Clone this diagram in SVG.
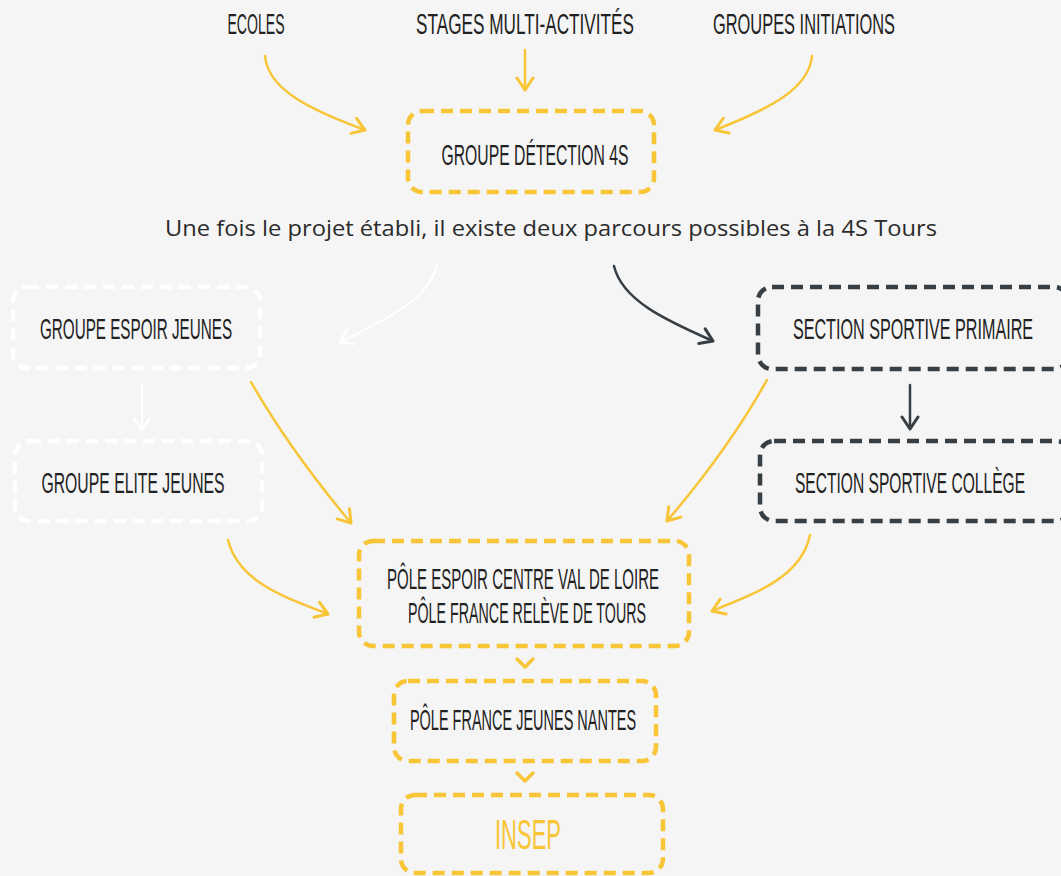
<svg xmlns="http://www.w3.org/2000/svg" width="1061" height="876" viewBox="0 0 1061 876">
<defs>
<style>
.bg{fill:#f5f5f5}
.box{fill:none;stroke-width:4.5;stroke-dasharray:12 7;stroke-linecap:butt}
.y{stroke:#f8c537}
.w{stroke:#ffffff}
.d{stroke:#373f45}
.lbl{font-family:"Liberation Sans",Arial,sans-serif;font-size:29px;fill:#222;text-anchor:middle}
.sub{font-family:"Open Sans","Liberation Sans",sans-serif;font-size:21px;fill:#2b2b2b;text-anchor:middle}
.ins{font-family:"Liberation Sans",Arial,sans-serif;font-size:42px;fill:#f8c537;text-anchor:middle}
.ar{fill:none;stroke-linecap:round;stroke-linejoin:round}
</style>
<marker id="my" markerUnits="userSpaceOnUse" viewBox="-14 -10 16 20" refX="0" refY="0" markerWidth="16" markerHeight="20" orient="auto"><path d="M-12,-8 L0,0 L-12,8" fill="none" stroke="#f8c537" stroke-width="3" stroke-linecap="round" stroke-linejoin="round"/></marker>
<marker id="mw" markerUnits="userSpaceOnUse" viewBox="-14 -10 16 20" refX="0" refY="0" markerWidth="16" markerHeight="20" orient="auto"><path d="M-12,-8 L0,0 L-12,8" fill="none" stroke="#ffffff" stroke-width="2.5" stroke-linecap="round" stroke-linejoin="round"/></marker>
<marker id="md" markerUnits="userSpaceOnUse" viewBox="-14 -10 16 20" refX="0" refY="0" markerWidth="16" markerHeight="20" orient="auto"><path d="M-12,-8 L0,0 L-12,8" fill="none" stroke="#373f45" stroke-width="3" stroke-linecap="round" stroke-linejoin="round"/></marker>
</defs>
<rect class="bg" x="0" y="0" width="1061" height="876"/>

<g id="connectors">
<path class="ar y" stroke-width="2.5" d="M265,56 C268,88 305,108 365,130" marker-end="url(#my)"/>
<path class="ar y" stroke-width="2.5" d="M525,50 L525,90" marker-end="url(#my)"/>
<path class="ar y" stroke-width="2.5" d="M812,56 C809,88 772,108 715,130" marker-end="url(#my)"/>
<path class="ar w" stroke-width="2" d="M437,266 C428,300 385,320 340,342" marker-end="url(#mw)"/>
<path class="ar d" stroke-width="2.5" d="M614,266 C622,300 665,320 713,341" marker-end="url(#md)"/>
<path class="ar w" stroke-width="2" d="M142,386 L142,430" marker-end="url(#mw)"/>
<path class="ar d" stroke-width="2.5" d="M910,385 L910,429" marker-end="url(#md)"/>
<path class="ar y" stroke-width="2.5" d="M251,382 Q290,450 351,523" marker-end="url(#my)"/>
<path class="ar y" stroke-width="2.5" d="M767,380 Q728,450 667,521" marker-end="url(#my)"/>
<path class="ar y" stroke-width="2.5" d="M228,540 C238,580 280,596 328,614" marker-end="url(#my)"/>
<path class="ar y" stroke-width="2.5" d="M810,535 C802,575 760,592 712,611" marker-end="url(#my)"/>
<path class="ar y" stroke-width="3.5" d="M517,659 L525,667 L533,659"/>
<path class="ar y" stroke-width="3.5" d="M517,773 L525,781 L533,773"/>
</g>

<g id="ecoles"><text class="lbl" transform="translate(256,34) scale(0.56,1)" x="0" y="0" textLength="102" lengthAdjust="spacingAndGlyphs">ECOLES</text></g>
<g id="stages"><text class="lbl" transform="translate(525,34) scale(0.56,1)" x="0" y="0" textLength="389" lengthAdjust="spacingAndGlyphs">STAGES MULTI-ACTIVITÉS</text></g>
<g id="initiations"><text class="lbl" transform="translate(804,34) scale(0.56,1)" x="0" y="0" textLength="325" lengthAdjust="spacingAndGlyphs">GROUPES INITIATIONS</text></g>

<g id="detection">
<rect class="box y" x="408" y="111" width="246" height="81" rx="14"/>
<text class="lbl" transform="translate(535,165) scale(0.56,1)" x="0" y="0" textLength="334" lengthAdjust="spacingAndGlyphs">GROUPE DÉTECTION 4S</text>
</g>

<g id="subtitle"><text class="sub" x="551" y="236" textLength="772" lengthAdjust="spacingAndGlyphs">Une fois le projet établi, il existe deux parcours possibles à la 4S Tours</text></g>

<g id="espoir">
<rect class="box w" x="13" y="287" width="247" height="81" rx="14"/>
<text class="lbl" transform="translate(136,339) scale(0.56,1)" x="0" y="0" textLength="343" lengthAdjust="spacingAndGlyphs">GROUPE ESPOIR JEUNES</text>
</g>
<g id="elite">
<rect class="box w" x="15" y="441" width="247" height="80" rx="14"/>
<text class="lbl" transform="translate(133,493) scale(0.56,1)" x="0" y="0" textLength="327" lengthAdjust="spacingAndGlyphs">GROUPE ELITE JEUNES</text>
</g>
<g id="primaire">
<rect class="box d" x="758" y="287" width="310" height="82" rx="14"/>
<text class="lbl" transform="translate(913,339) scale(0.56,1)" x="0" y="0" textLength="429" lengthAdjust="spacingAndGlyphs">SECTION SPORTIVE PRIMAIRE</text>
</g>
<g id="college">
<rect class="box d" x="760" y="441" width="310" height="80" rx="14"/>
<text class="lbl" transform="translate(910,493) scale(0.56,1)" x="0" y="0" textLength="411" lengthAdjust="spacingAndGlyphs">SECTION SPORTIVE COLLÈGE</text>
</g>

<g id="pole">
<rect class="box y" x="359" y="541" width="330" height="105" rx="14"/>
<text class="lbl" transform="translate(523,589) scale(0.56,1)" x="0" y="0" textLength="486" lengthAdjust="spacingAndGlyphs">PÔLE ESPOIR CENTRE VAL DE LOIRE</text>
<text class="lbl" transform="translate(527,623) scale(0.56,1)" x="0" y="0" textLength="425" lengthAdjust="spacingAndGlyphs">PÔLE FRANCE RELÈVE DE TOURS</text>
</g>
<g id="nantes">
<rect class="box y" x="394" y="681" width="262" height="80" rx="14"/>
<text class="lbl" transform="translate(523,730) scale(0.56,1)" x="0" y="0" textLength="404" lengthAdjust="spacingAndGlyphs">PÔLE FRANCE JEUNES NANTES</text>
</g>
<g id="insep">
<rect class="box y" x="401" y="795" width="262" height="78" rx="14"/>
<text class="ins" transform="translate(528,849) scale(0.52,1)" x="0" y="0" textLength="127" lengthAdjust="spacingAndGlyphs">INSEP</text>
</g>
</svg>
